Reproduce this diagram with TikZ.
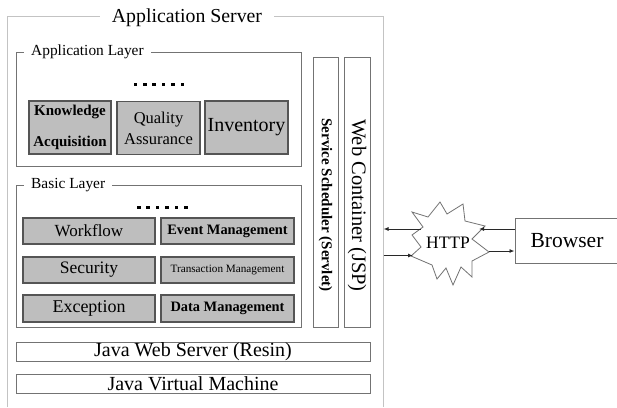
\documentclass[tikz,border=0pt]{standalone}
\usepackage{fontspec}
\setmainfont{Liberation Serif}[Ligatures=TeX]
\newfontfamily\tnr{Liberation Serif}
\usetikzlibrary{arrows.meta}

\definecolor{framegray}{RGB}{195,195,195}
\definecolor{layergray}{RGB}{115,115,115}
\definecolor{modfill}{RGB}{190,190,190}
\definecolor{moddraw}{RGB}{85,85,85}
\definecolor{wiregray}{RGB}{40,40,40}

\newcommand{\fs}[1]{\tnr\fontsize{#1}{1.2\dimexpr#1pt\relax}\selectfont}

\tikzset{
  frameline/.style={draw=framegray, line width=1pt},
  layerbox/.style={draw=layergray, line width=1pt},
  layerlabel/.style={fill=white, anchor=west, inner xsep=7pt, inner ysep=1pt, font=\fs{15.4}},
  module/.style={draw=moddraw, fill=modfill, line width=1.1pt, inner sep=0pt},
  plainbar/.style={draw=layergray, fill=white, line width=1pt, inner sep=0pt},
  wire/.style={draw=wiregray, line width=0.9pt, -{Latex[length=5pt,width=4pt]}},
  dotsq/.style={fill=black}
}

\begin{document}
\begin{tikzpicture}[x=1pt, y=-1pt]
\useasboundingbox (0,0) rectangle (617,407);

% outer application server frame (open at the bottom)
\draw[frameline] (7,407) -- (7,16) -- (383,16) -- (383,407);
\node[fill=white, inner xsep=12pt, inner ysep=1pt, anchor=base, font=\fs{19.8}] (appserver) at (187,22) {Application Server};

% application layer
\node[layerbox, minimum width=285pt, minimum height=114pt] (applayer) at (158.5,109) {};
\node[layerlabel] (applabel) at (24,52) {Application Layer};
\foreach \i in {0,...,5} \fill[dotsq] (133.5+\i*9.4,82.5) rectangle ++(3.6,3.6);

\node[module, minimum width=82pt, minimum height=53pt, align=center,
      font=\tnr\bfseries\fontsize{15}{31}\selectfont] (ka) at (70,127.5) {Knowledge\\Acquisition};
\node[module, minimum width=83pt, minimum height=53pt, align=center,
      font=\tnr\fontsize{16.5}{21}\selectfont] (qa) at (158.5,128) {Quality\\Assurance};
\node[module, minimum width=83pt, minimum height=53pt, font=\fs{20}] (inv) at (246.5,127.5) {Inventory};

% basic layer
\node[layerbox, minimum width=285pt, minimum height=142pt] (basiclayer) at (158.5,256) {};
\node[layerlabel] (basiclabel) at (24,185) {Basic Layer\hspace{14pt}};
\foreach \i in {0,...,5} \fill[dotsq] (137+\i*9.4,205.5) rectangle ++(3.6,3.6);

\node[module, minimum width=132pt, minimum height=26pt, font=\fs{17}] (wf) at (89,231) {Workflow};
\node[module, minimum width=133pt, minimum height=26pt, font=\fs{14.4}\bfseries] (ev) at (227.5,231) {Event Management};
\node[module, minimum width=132pt, minimum height=26pt, font=\fs{17.5}] (sec) at (89,270) {Security};
\node[module, minimum width=133pt, minimum height=26pt, font=\fs{11.2}] (tx) at (227.5,270) {Transaction Management};
\node[module, minimum width=132pt, minimum height=27pt, font=\fs{18}] (exc) at (89,308.5) {Exception};
\node[module, minimum width=133pt, minimum height=27pt, font=\fs{14.4}\bfseries] (dm) at (227.5,308.5) {Data Management};

% vertical service columns
\node[plainbar, minimum width=25pt, minimum height=270pt] (sched) at (325.5,192) {};
\node[rotate=-90, font=\fs{15}\bfseries] (schedtext) at (325.5,205) {Service Scheduler (Servlet)};
\node[plainbar, minimum width=26pt, minimum height=270pt] (webc) at (357,192) {};
\node[rotate=-90, font=\fs{20.5}] (webctext) at (357,205.5) {Web Container (JSP)};

% runtime bars
\node[plainbar, minimum width=354pt, minimum height=19pt, font=\fs{20}] (resin) at (193,351.5) {Java Web Server (Resin)};
\node[plainbar, minimum width=354pt, minimum height=19pt, font=\fs{20}] (jvm) at (193,383.5) {Java Virtual Machine};

% browser
\node[plainbar, minimum width=105pt, minimum height=45pt] (browser) at (567.5,240.5) {};
\node[font=\fs{21.5}] (browsertext) at (567,241) {Browser};

% HTTP burst
\draw[draw=layergray, fill=white, line width=0.8pt, line join=miter]
  (412,212) -- (428,217) -- (440,202) -- (447,214) -- (463,204) -- (465,221)
  -- (485,226) -- (472,239) -- (489,252) -- (472,261) -- (472,277) -- (461,267)
  -- (453,285) -- (446,268) -- (437,279) -- (432,265) -- (411,256) -- (421,247)
  -- (412,235) -- (423,227) -- cycle;
\node[font=\fs{17.5}, inner sep=0pt] (http) at (448,242.5) {HTTP};

% request / response paths
\coordinate (srvin1) at (383.5,229);
\coordinate (srvin2) at (383.5,255.5);
\coordinate (burstR1) at (479,229);
\coordinate (burstL1) at (421,229);
\coordinate (burstL2) at (413,255.5);
\coordinate (burstR2) at (489,251);

\draw[wire] (browser.west |- burstR1) -- (burstR1);
\draw[wire] (burstL1) -- (srvin1);
\draw[wire] (srvin2) -- (burstL2);
\draw[wire] (burstR2) -- (browser.west |- burstR2);
\end{tikzpicture}
\end{document}
